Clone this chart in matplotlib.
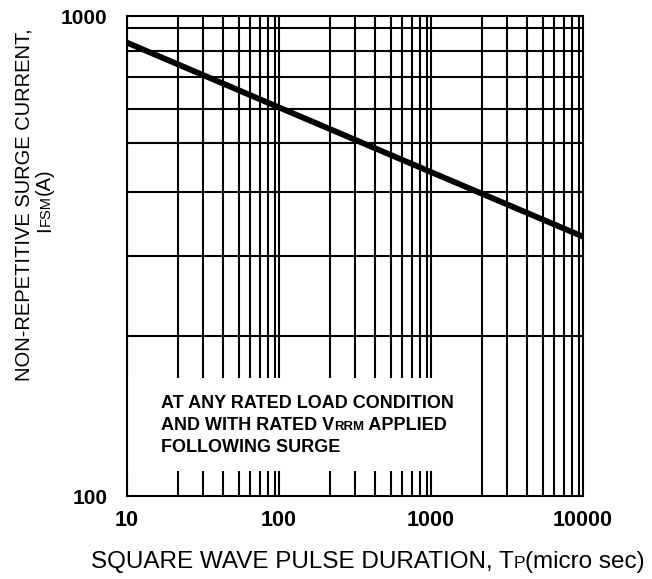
import matplotlib
matplotlib.use("Agg")
import matplotlib.pyplot as plt
from matplotlib.ticker import FixedLocator, FixedFormatter, NullLocator
from matplotlib.transforms import IdentityTransform
from matplotlib.patches import Rectangle

plt.rcParams["font.family"] = ["Liberation Sans", "DejaVu Sans"]

# curve
pulse_us = [10, 100, 1000, 10000]
surge_a = [880, 645, 473, 347]

x_ticks = [10, 100, 1000, 10000]
x_ticklabels = ["10", "100", "1000", "10000"]
y_ticks = [100, 1000]
y_ticklabels = ["100", "1000"]

# the chart paper's 2..9 lines sit a bit off true log spacing (fraction of a decade)
paper_frac = [0.333, 0.501, 0.633, 0.735, 0.806, 0.872, 0.927, 0.975]

W, H = 652, 579
fig = plt.figure(figsize=(W / 100, H / 100), dpi=100)
ax = fig.add_axes([127 / W, 1 - 496 / H, 456 / W, 480 / H])

ax.set_xscale("log")
ax.set_yscale("log")
ax.set_xlim(10, 10000)
ax.set_ylim(100, 1000)

ax.xaxis.set_major_locator(FixedLocator(x_ticks))
ax.xaxis.set_major_formatter(FixedFormatter(x_ticklabels))
ax.yaxis.set_major_locator(FixedLocator(y_ticks))
ax.yaxis.set_major_formatter(FixedFormatter(y_ticklabels))
ax.xaxis.set_minor_locator(NullLocator())
ax.yaxis.set_minor_locator(NullLocator())

ax.tick_params(which="both", length=0)
ax.tick_params(axis="x", pad=10, labelsize=15.5)
ax.tick_params(axis="y", pad=14, labelsize=15)
for lab in ax.get_xticklabels() + ax.get_yticklabels():
    lab.set_fontweight("bold")

# grid drawn by hand so it follows the paper
grid_kw = dict(color="black", linewidth=1.5, zorder=0.5)
for k in range(1, 4):
    for f in paper_frac:
        ax.axvline(10 ** (k + f), **grid_kw)
    ax.axvline(10 ** k, **grid_kw)
for f in paper_frac:
    ax.axhline(10 ** (2 + f), **grid_kw)

for sp in ax.spines.values():
    sp.set_linewidth(1.5)
    sp.set_zorder(4)

# white panel behind the note
ax.add_patch(Rectangle((10, 112.5), 1500 - 10, 176 - 112.5, facecolor="white",
                       edgecolor="none", zorder=1))

ax.plot(pulse_us, surge_a, color="black", linewidth=4.2, zorder=3,
        solid_capstyle="butt")


def rich_text(x, y, parts, rotation=0, align="center", weight="normal"):
    # parts: list of (string, fontsize); x, y in pixels from bottom-left
    r = fig.canvas.get_renderer()
    items = []
    for s, size in parts:
        t = fig.text(0, 0, s, fontsize=size, fontweight=weight,
                     transform=IdentityTransform(), ha="left", va="baseline")
        items.append((t, t.get_window_extent(r).width))
    total = sum(w for _, w in items)
    start = -total / 2 if align == "center" else 0
    for t, w in items:
        if rotation:
            t.set_position((x, y + start))
            t.set_rotation(90)
            t.set_rotation_mode("anchor")
        else:
            t.set_position((x + start, y))
        start += w


rich_text(368, 11, [("SQUARE WAVE PULSE DURATION, T", 17.5), ("P", 12.5),
                    ("(micro sec)", 17.5)])
rich_text(29, 579 - 205, [("NON-REPETITIVE SURGE CURRENT,", 14.5)], rotation=90)
rich_text(50, 579 - 200, [("I", 14.5), ("FSM", 10.5), ("(A)", 14.5)], rotation=90)

nb, ns = 13, 9.5
rich_text(161, 579 - 408, [("AT ANY RATED LOAD CONDITION", nb)], align="left", weight="bold")
rich_text(161, 579 - 430, [("AND WITH RATED V", nb), ("RRM", ns), (" APPLIED", nb)],
          align="left", weight="bold")
rich_text(161, 579 - 452, [("FOLLOWING SURGE", nb)], align="left", weight="bold")

fig.savefig("out.png", dpi=100)
